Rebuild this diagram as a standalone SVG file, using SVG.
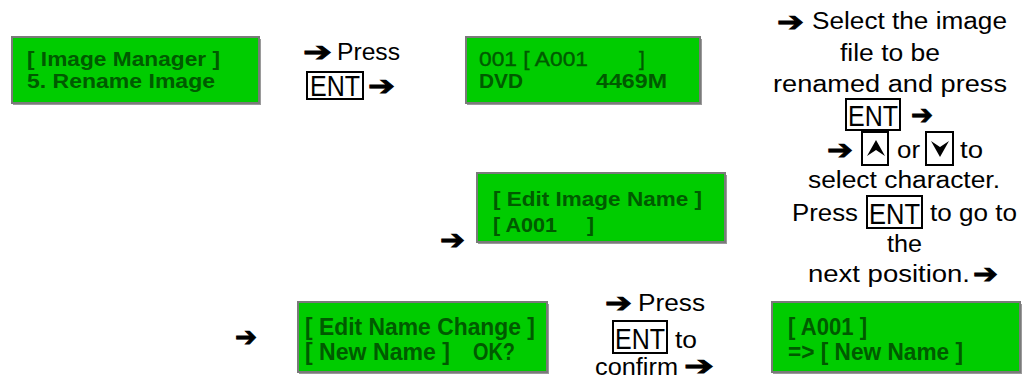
<svg xmlns="http://www.w3.org/2000/svg" width="1025" height="380" viewBox="0 0 1025 380">
<style>
.lcd{fill:#00cc00;stroke:#7a7a7a;stroke-width:2}
.sh{fill:#9a9a9a}
.lt{font-family:"Liberation Sans",Arial,sans-serif;font-weight:bold;fill:#005a00;font-size:21px}
.lt2{font-size:23px}
.t{font-family:"Liberation Sans",Arial,sans-serif;font-size:23px;fill:#000}
.ent{font-family:"Liberation Sans",Arial,sans-serif;font-size:29px;fill:#000}
.kb{fill:none;stroke:#000;stroke-width:2}
.ar{font-family:"DejaVu Sans",sans-serif;font-size:27px;fill:#000;stroke:#000;stroke-width:0.9}
</style>

<g id="lcd1">
<rect class="sh" x="13" y="39" width="248" height="66"/>
<rect class="lcd" x="12" y="37" width="247" height="66"/>
<text class="lt" x="27" y="66" textLength="193" lengthAdjust="spacingAndGlyphs">[ Image Manager ]</text>
<text class="lt" x="27" y="88" textLength="188" lengthAdjust="spacingAndGlyphs">5. Rename Image</text>
</g>

<g id="step1">
<text class="ar" x="303" y="61" textLength="29" lengthAdjust="spacingAndGlyphs">➔</text>
<text class="t" x="337" y="60" textLength="63" lengthAdjust="spacingAndGlyphs">Press</text>
<rect class="kb" x="307" y="72" width="56" height="27"/>
<text class="ent" x="310" y="96" textLength="50" lengthAdjust="spacingAndGlyphs">ENT</text>
<text class="ar" x="368" y="95" textLength="27" lengthAdjust="spacingAndGlyphs">➔</text>
</g>

<g id="lcd2">
<rect class="sh" x="467" y="39" width="235" height="66"/>
<rect class="lcd" x="466" y="37" width="234" height="66"/>
<text class="lt" x="479" y="66" textLength="109" lengthAdjust="spacingAndGlyphs" style="font-weight:normal;stroke:#005a00;stroke-width:0.4">001 [ A001</text>
<text class="lt" x="639" y="66" style="font-weight:normal;stroke:#005a00;stroke-width:0.4">]</text>
<text class="lt" x="479" y="88" textLength="44" lengthAdjust="spacingAndGlyphs">DVD</text>
<text class="lt" x="596" y="88" textLength="71" lengthAdjust="spacingAndGlyphs">4469M</text>
</g>

<g id="step2">
<text class="ar" x="777" y="31" textLength="27" lengthAdjust="spacingAndGlyphs">➔</text>
<text class="t" x="812" y="29" textLength="195" lengthAdjust="spacingAndGlyphs">Select the image</text>
<text class="t" x="840" y="61" textLength="100" lengthAdjust="spacingAndGlyphs">file to be</text>
<text class="t" x="773" y="92" textLength="234" lengthAdjust="spacingAndGlyphs">renamed and press</text>
<rect class="kb" x="846" y="99" width="54" height="31"/>
<text class="ent" x="848" y="126" textLength="50" lengthAdjust="spacingAndGlyphs">ENT</text>
<text class="ar" x="911" y="124" textLength="22" lengthAdjust="spacingAndGlyphs">➔</text>
<text class="ar" x="827" y="159" textLength="26" lengthAdjust="spacingAndGlyphs">➔</text>
<rect class="kb" x="862" y="132" width="26" height="33"/>
<polygon points="867,156 876,140 885,156 876,150" fill="#000"/>
<text class="t" x="897" y="158" textLength="23" lengthAdjust="spacingAndGlyphs">or</text>
<rect class="kb" x="926" y="132" width="27" height="33"/>
<polygon points="931,141 940,157 949,141 940,147" fill="#000"/>
<text class="t" x="960" y="158" textLength="23" lengthAdjust="spacingAndGlyphs">to</text>
<text class="t" x="808" y="188" textLength="192" lengthAdjust="spacingAndGlyphs">select character.</text>
<text class="t" x="792" y="221" textLength="66" lengthAdjust="spacingAndGlyphs">Press</text>
<rect class="kb" x="867" y="196" width="55" height="32"/>
<text class="ent" x="869" y="224" textLength="51" lengthAdjust="spacingAndGlyphs">ENT</text>
<text class="t" x="930" y="221" textLength="87" lengthAdjust="spacingAndGlyphs">to go to</text>
<text class="t" x="887" y="252" textLength="35" lengthAdjust="spacingAndGlyphs">the</text>
<text class="t" x="808" y="282" textLength="162" lengthAdjust="spacingAndGlyphs">next position.</text>
<text class="ar" x="973" y="283" textLength="25" lengthAdjust="spacingAndGlyphs">➔</text>
</g>

<g id="lcd3">
<rect class="sh" x="478" y="175" width="249" height="69"/>
<rect class="lcd" x="477" y="173" width="248" height="69"/>
<text class="lt" x="493" y="206" textLength="209" lengthAdjust="spacingAndGlyphs">[ Edit Image Name ]</text>
<text class="lt" x="493" y="232" textLength="64" lengthAdjust="spacingAndGlyphs">[ A001</text>
<text class="lt" x="587" y="232">]</text>
</g>

<g id="lcd4">
<rect class="sh" x="299" y="304" width="250" height="70"/>
<rect class="lcd" x="298" y="302" width="249" height="70"/>
<text class="lt lt2" x="305" y="335" textLength="230" lengthAdjust="spacingAndGlyphs">[ Edit Name Change ]</text>
<text class="lt lt2" x="305" y="360" textLength="145" lengthAdjust="spacingAndGlyphs">[ New Name ]</text>
<text class="lt lt2" x="473" y="360" textLength="42" lengthAdjust="spacingAndGlyphs">OK?</text>
</g>

<g id="step3">
<text class="ar" x="605" y="312" textLength="27" lengthAdjust="spacingAndGlyphs">➔</text>
<text class="t" x="638" y="311" textLength="67" lengthAdjust="spacingAndGlyphs">Press</text>
<rect class="kb" x="613" y="321" width="54" height="32"/>
<text class="ent" x="615" y="349" textLength="50" lengthAdjust="spacingAndGlyphs">ENT</text>
<text class="t" x="675" y="348" textLength="22" lengthAdjust="spacingAndGlyphs">to</text>
<text class="t" x="595" y="375" textLength="83" lengthAdjust="spacingAndGlyphs">confirm</text>
<text class="ar" x="684" y="375" textLength="30" lengthAdjust="spacingAndGlyphs">➔</text>
</g>

<g id="lcd5">
<rect class="sh" x="773" y="304" width="249" height="70"/>
<rect class="lcd" x="772" y="302" width="248" height="70"/>
<text class="lt lt2" x="788" y="335" textLength="79" lengthAdjust="spacingAndGlyphs">[ A001 ]</text>
<text class="lt lt2" x="788" y="360" textLength="175" lengthAdjust="spacingAndGlyphs">=&gt; [ New Name ]</text>
</g>

<g id="connectors">
<text class="ar" x="440" y="249" textLength="25" lengthAdjust="spacingAndGlyphs">➔</text>
<text class="ar" x="235" y="346" textLength="22" lengthAdjust="spacingAndGlyphs">➔</text>
</g>
</svg>
